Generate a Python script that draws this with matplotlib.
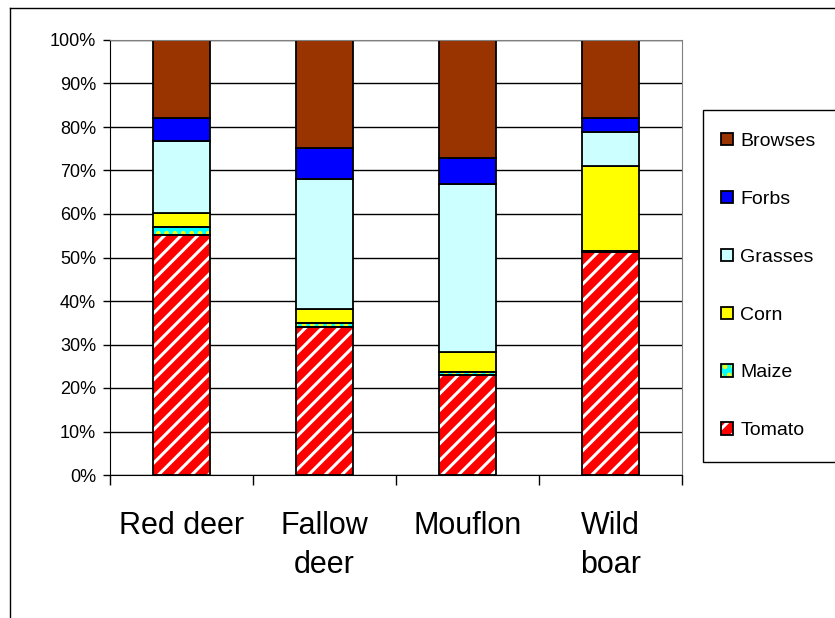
import numpy as np
import matplotlib.pyplot as plt
from matplotlib.patches import Patch, Rectangle
from matplotlib.lines import Line2D
from matplotlib.legend_handler import HandlerTuple

plt.rcParams['font.family'] = ['Liberation Sans', 'DejaVu Sans']
plt.rcParams['hatch.linewidth'] = 2.2

animals = ['Red deer', 'Fallow\ndeer', 'Mouflon', 'Wild\nboar']
series = ['Tomato', 'Maize', 'Corn', 'Grasses', 'Forbs', 'Browses']
tomato = [55.2, 34.1, 23.1, 51.2]
maize = [1.9, 0.8, 0.6, 0.4]
corn = [3.2, 3.3, 4.5, 19.4]
grasses = [16.5, 29.8, 38.6, 7.8]
forbs = [5.2, 7.1, 6.0, 3.2]
browses = [18.0, 24.9, 27.2, 18.0]

colors = ['#FF0000', '#00FFFF', '#FFFF00', '#CCFFFF', '#0000FF', '#993300']
hatches = ['//', '..', None, None, None, None]
hatch_colors = ['white', '#FFFF00', None, None, None, None]

data = np.array([tomato, maize, corn, grasses, forbs, browses])
data = data / data.sum(axis=0) * 100

fig = plt.figure(figsize=(8.35, 6.18), dpi=100)
ax = fig.add_axes([110 / 835, 1 - 475 / 618, 572 / 835, 435 / 618])

x = np.arange(len(animals))
w = 0.4
bottom = np.zeros(len(animals))
handles = []
for name, vals, c, h, hc in zip(series, data, colors, hatches, hatch_colors):
    if h:
        ax.bar(x, vals, w, bottom=bottom, color=c, edgecolor=hc, hatch=h, lw=0, zorder=2)
        ax.bar(x, vals, w, bottom=bottom, fill=False, edgecolor='black', lw=1.3, zorder=3)
        handles.append((Patch(facecolor=c, edgecolor=hc, hatch=h, lw=0),
                        Patch(fill=False, edgecolor='black', lw=1.3)))
    else:
        ax.bar(x, vals, w, bottom=bottom, color=c, edgecolor='black', lw=1.3, zorder=2)
        handles.append(Patch(facecolor=c, edgecolor='black', lw=1.3))
    bottom += vals

ax.set_xlim(-0.5, 3.5)
ax.set_ylim(0, 100)
ax.set_yticks(np.arange(0, 101, 10))
ax.set_yticklabels([f'{v}%' for v in range(0, 101, 10)], fontsize=13)
ax.yaxis.grid(True, color='black', lw=1)
ax.set_axisbelow(True)
ax.tick_params(axis='y', length=5, width=1, direction='out', pad=5)

ax.set_xticks(np.arange(-0.5, 4, 1))
ax.set_xticklabels([])
ax.tick_params(axis='x', which='major', length=7, width=1)
ax.set_xticks(x, minor=True)
ax.set_xticklabels(animals, minor=True, fontsize=22, linespacing=1.38, va='top')
ax.tick_params(axis='x', which='minor', length=0, pad=26)

ax.spines['top'].set_color('#808080')
ax.spines['right'].set_color('#808080')

# legend frame drawn separately, runs off the right edge
fig.add_artist(Rectangle((703 / 835, 1 - 462 / 618), 0.3, 352 / 618,
                         transform=fig.transFigure, facecolor='white',
                         edgecolor='black', lw=1))
leg = fig.legend(handles[::-1], series[::-1], loc='upper left',
                 bbox_to_anchor=(721 / 835, 1 - 133 / 618), fontsize=14,
                 handler_map={tuple: HandlerTuple(ndivide=1)},
                 handlelength=0.6, handleheight=0.6, handletextpad=0.4,
                 labelspacing=2.1, borderpad=0, borderaxespad=0, frameon=False)

fig.add_artist(Line2D([10 / 835, 10 / 835], [0, 1 - 8 / 618], color='black', lw=1))
fig.add_artist(Line2D([10 / 835, 1], [1 - 8 / 618, 1 - 8 / 618], color='black', lw=1))

fig.savefig('out.png', dpi=100)
